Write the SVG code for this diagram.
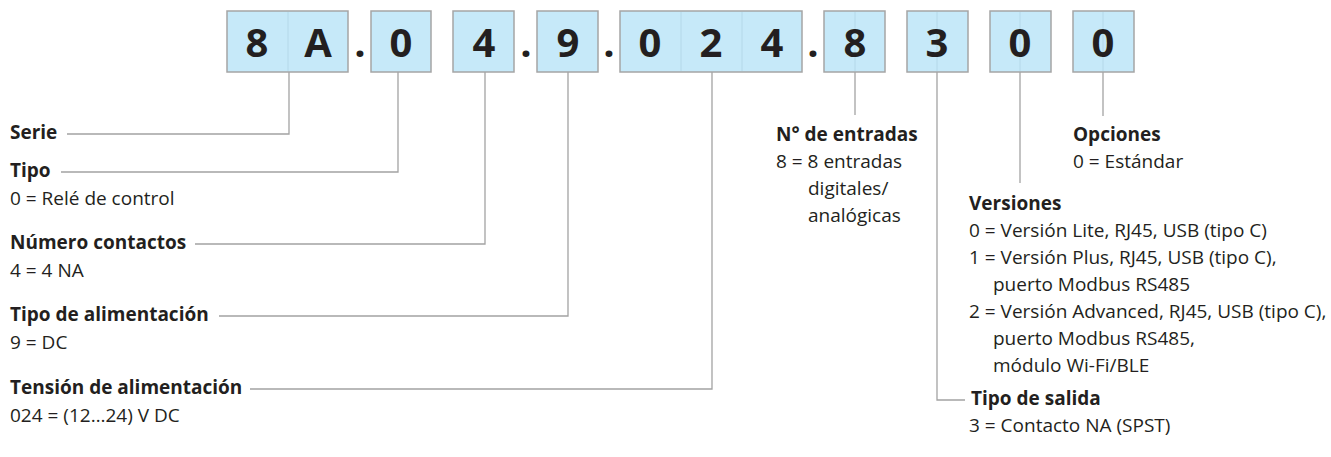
<svg xmlns="http://www.w3.org/2000/svg" width="1331" height="457" viewBox="0 0 1331 457">
<style>
.box{fill:#c6e9f9;stroke:#a5a5a5;stroke-width:1.5}
.faint{stroke:#b4d8e9;stroke-width:1}
.dig{font-family:"Open Sans","Liberation Sans",sans-serif;font-weight:700;font-size:40px;fill:#231f20;text-anchor:middle}
.lead{fill:none;stroke:#a3a3a3;stroke-width:1.3}
.h{font-family:"Open Sans","Liberation Sans",sans-serif;font-weight:700;font-size:19px;fill:#231f20}
.t{font-family:"Open Sans","Liberation Sans",sans-serif;font-size:19px;fill:#231f20}
</style>
<rect width="1331" height="457" fill="#ffffff"/>
<g id="connectors">
<polyline class="lead" points="289,72 289,134 67,134"/>
<polyline class="lead" points="398,72 398,172 61,172"/>
<polyline class="lead" points="485,72 485,244 195,244"/>
<polyline class="lead" points="568,72 568,316 219,316"/>
<polyline class="lead" points="712,72 712,389 250,389"/>
<polyline class="lead" points="855,72 855,115"/>
<polyline class="lead" points="937,72 937,400 965,400"/>
<polyline class="lead" points="1020,72 1020,183"/>
<polyline class="lead" points="1103,72 1103,116"/>
</g>
<g id="code">
<g id="box-serie"><rect class="box" x="227" y="11" width="121" height="61"/><line class="faint" x1="288" y1="12" x2="288" y2="71"/><text class="dig" x="257" y="57">8</text><text class="dig" x="318" y="57">A</text></g>
<text class="dig" x="360" y="57">.</text>
<g id="box-tipo"><rect class="box" x="371" y="11" width="60" height="61"/><text class="dig" x="401" y="57">0</text></g>
<g id="box-contactos"><rect class="box" x="453" y="11" width="61" height="61"/><text class="dig" x="484" y="57">4</text></g>
<text class="dig" x="526" y="57">.</text>
<g id="box-alimentacion"><rect class="box" x="537" y="11" width="61" height="61"/><text class="dig" x="568" y="57">9</text></g>
<text class="dig" x="609" y="57">.</text>
<g id="box-tension"><rect class="box" x="620" y="11" width="182" height="61"/><line class="faint" x1="681" y1="12" x2="681" y2="71"/><line class="faint" x1="742" y1="12" x2="742" y2="71"/><text class="dig" x="650" y="57">0</text><text class="dig" x="711" y="57">2</text><text class="dig" x="772" y="57">4</text></g>
<text class="dig" x="813" y="57">.</text>
<g id="box-entradas"><rect class="box" x="824" y="11" width="61" height="61"/><line class="faint" x1="855" y1="12" x2="855" y2="71"/><text class="dig" x="855" y="57">8</text></g>
<g id="box-salida"><rect class="box" x="907" y="11" width="61" height="61"/><line class="faint" x1="937" y1="12" x2="937" y2="71"/><text class="dig" x="937" y="57">3</text></g>
<g id="box-versiones"><rect class="box" x="990" y="11" width="61" height="61"/><line class="faint" x1="1020" y1="12" x2="1020" y2="71"/><text class="dig" x="1020" y="57">0</text></g>
<g id="box-opciones"><rect class="box" x="1073" y="11" width="61" height="61"/><line class="faint" x1="1103" y1="12" x2="1103" y2="71"/><text class="dig" x="1103" y="57">0</text></g>
</g>
<g id="label-serie"><text class="h" x="10" y="139">Serie</text></g>
<g id="label-tipo"><text class="h" x="10" y="177">Tipo</text><text class="t" x="10" y="205">0 = Relé de control</text></g>
<g id="label-contactos"><text class="h" x="10" y="249">Número contactos</text><text class="t" x="10" y="277">4 = 4 NA</text></g>
<g id="label-alimentacion"><text class="h" x="10" y="321">Tipo de alimentación</text><text class="t" x="10" y="349">9 = DC</text></g>
<g id="label-tension"><text class="h" x="10" y="394">Tensión de alimentación</text><text class="t" x="10" y="422">024 = (12…24) V DC</text></g>
<g id="label-entradas"><text class="h" x="776" y="141">N° de entradas</text><text class="t" x="776" y="168">8 = 8 entradas</text><text class="t" x="808" y="195">digitales/</text><text class="t" x="808" y="222">analógicas</text></g>
<g id="label-opciones"><text class="h" x="1073" y="141">Opciones</text><text class="t" x="1073" y="168">0 = Estándar</text></g>
<g id="label-versiones"><text class="h" x="969" y="210">Versiones</text>
<text class="t" x="969" y="237">0 = Versión Lite, RJ45, USB (tipo C)</text>
<text class="t" x="969" y="264">1 = Versión Plus, RJ45, USB (tipo C),</text>
<text class="t" x="993" y="291">puerto Modbus RS485</text>
<text class="t" x="969" y="318">2 = Versión Advanced, RJ45, USB (tipo C),</text>
<text class="t" x="993" y="345">puerto Modbus RS485,</text>
<text class="t" x="993" y="372">módulo Wi-Fi/BLE</text></g>
<g id="label-salida"><text class="h" x="971" y="405">Tipo de salida</text><text class="t" x="969" y="432">3 = Contacto NA (SPST)</text></g>
</svg>
